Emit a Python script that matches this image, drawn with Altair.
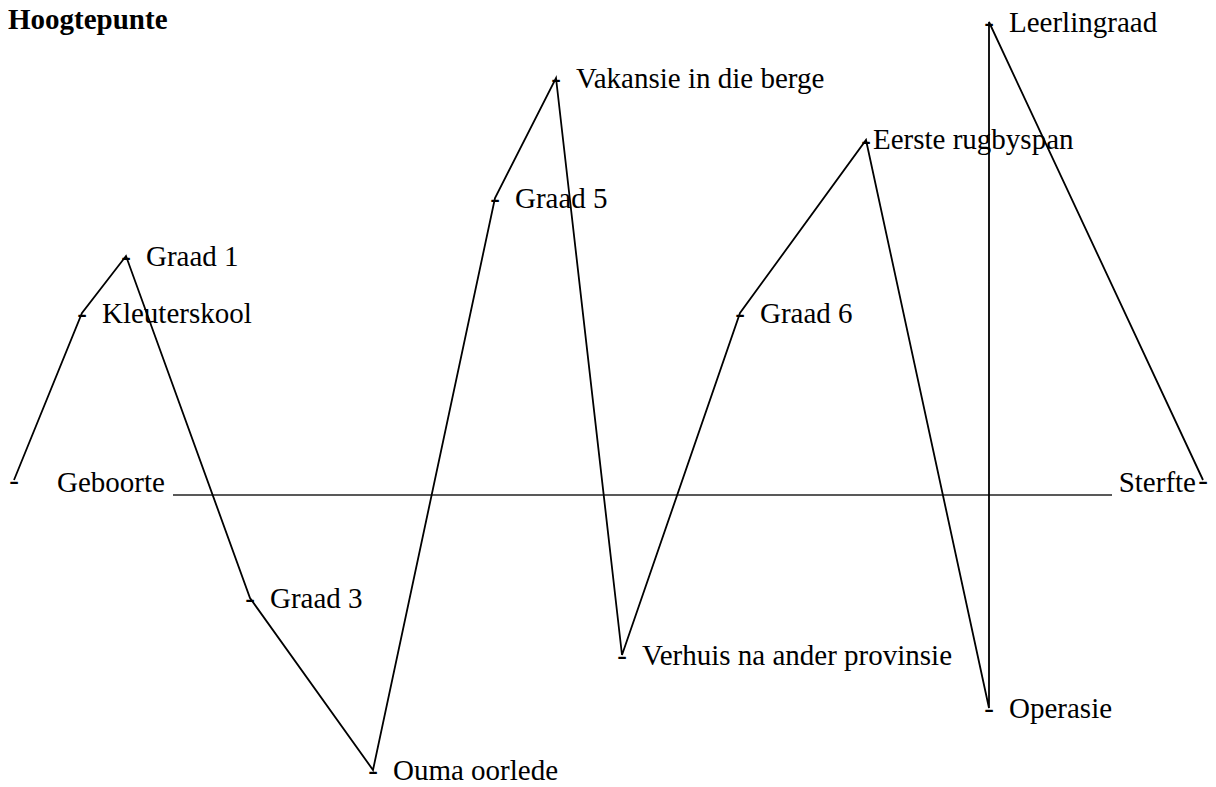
import altair as alt
import pandas as pd

# --- data ---
gebeure = ["Geboorte", "Kleuterskool", "Graad 1", "Graad 3", "Ouma oorlede",
           "Graad 5", "Vakansie in die berge", "Verhuis na ander provinsie",
           "Graad 6", "Eerste rugbyspan", "Operasie", "Leerlingraad", "Sterfte"]
tyd = [6, 74, 118, 242, 365, 487, 548, 614, 732, 858, 981, 981, 1195]
gevoel = [1.5, 18.2, 23.9, -10.3, -27.5, 29.7, 41.7, -16.0, 18.2, 35.5, -21.3, 47.3, 1.5]
volgorde = list(range(len(gebeure)))

lewenslyn_begin = [165]
lewenslyn_einde = [1104]
lewenslyn_vlak = [0]

titel = ["Hoogtepunte"]

df = pd.DataFrame({"gebeur": gebeure, "tyd": tyd, "gevoel": gevoel, "volgorde": volgorde})
lyn_df = pd.DataFrame({"begin": lewenslyn_begin, "einde": lewenslyn_einde, "vlak": lewenslyn_vlak})
titel_df = pd.DataFrame({"titel": titel})

W, H = 1200, 779
FONT = "Liberation Serif"
FS = 29

xs = alt.Scale(domain=[0, 1200], nice=False, zero=False)
ys = alt.Scale(domain=[-29.2, 48.7], nice=False, zero=False)

X = alt.X("tyd:Q", scale=xs, axis=None)
Y = alt.Y("gevoel:Q", scale=ys, axis=None)

base = alt.Chart(df)

lyn = base.mark_line(color="black", strokeWidth=1.8).encode(x=X, y=Y, order="volgorde:Q")

strepies = base.mark_text(text="-", font=FONT, fontSize=FS, align="center",
                          baseline="alphabetic", dy=10, color="black").encode(x=X, y=Y)

gewone = base.transform_filter(
    ~alt.FieldOneOfPredicate(field="gebeur", oneOf=["Geboorte", "Eerste rugbyspan", "Sterfte"])
).mark_text(font=FONT, fontSize=FS, align="left", baseline="alphabetic", dx=20, dy=10,
            color="black").encode(x=X, y=Y, text="gebeur:N")

rugby = base.transform_filter(alt.datum.gebeur == "Eerste rugbyspan").mark_text(
    font=FONT, fontSize=FS, align="left", baseline="alphabetic", dx=7, dy=9, color="black"
).encode(x=X, y=Y, text="gebeur:N")

geboorte = base.transform_filter(alt.datum.gebeur == "Geboorte").mark_text(
    font=FONT, fontSize=FS, align="left", baseline="alphabetic", dx=43, dy=12, color="black"
).encode(x=X, y=Y, text="gebeur:N")

sterfte = base.transform_filter(alt.datum.gebeur == "Sterfte").mark_text(
    font=FONT, fontSize=FS, align="right", baseline="alphabetic", dx=-7, dy=12, color="black"
).encode(x=X, y=Y, text="gebeur:N")

lewenslyn = alt.Chart(lyn_df).mark_rule(color="#222222", strokeWidth=1.4).encode(
    x=alt.X("begin:Q", scale=xs, axis=None),
    x2="einde:Q",
    y=alt.Y("vlak:Q", scale=ys, axis=None),
)

kop = alt.Chart(titel_df).mark_text(font=FONT, fontSize=FS, fontWeight="bold", align="left",
                                    baseline="alphabetic", color="black").encode(
    x=alt.value(0), y=alt.value(21), text="titel:N")

chart = alt.layer(lewenslyn, lyn, strepies, gewone, rugby, geboorte, sterfte, kop).properties(
    width=W, height=H, padding=0, background="white",
    autosize=alt.AutoSizeParams(type="none")
).configure_view(stroke=None)

chart.save("out.html", embed_options={"renderer": "svg", "actions": False})
